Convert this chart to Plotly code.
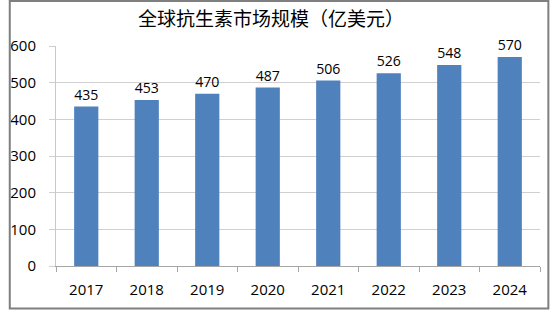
import plotly.graph_objects as go

years = ["2017", "2018", "2019", "2020", "2021", "2022", "2023", "2024"]
values = [435, 453, 470, 487, 506, 526, 548, 570]
title = "全球抗生素市场规模（亿美元）"

W, H = 550, 310
ml, mr, mt, mb = 48, 10, 46, 44
pw, ph = W - ml - mr, H - mt - mb

fig = go.Figure(go.Bar(
    x=years, y=values, marker=dict(color="#4F81BD", line=dict(width=0)),
    text=[str(v) for v in values], textposition="outside",
    textfont=dict(size=15, color="#000000", family="Open Sans, Liberation Sans, sans-serif"),
    cliponaxis=False, width=0.40,
))

fig.update_layout(
    width=W, height=H, margin=dict(l=ml, r=mr, t=mt, b=mb),
    paper_bgcolor="white", plot_bgcolor="white", showlegend=False,
    title=dict(text=title, x=271 / W, xanchor="center", y=1 - 19 / H, yanchor="middle",
               font=dict(size=19, color="#000000", family="Noto Sans CJK SC", weight="normal")),
    font=dict(family="Open Sans, Liberation Sans, sans-serif", color="#000000", size=14),
    xaxis=dict(showline=True, linecolor="#A6A6A6", linewidth=1, ticks="outside",
               tickson="boundaries", ticklen=5, tickcolor="#A6A6A6",
               tickfont=dict(size=15), showgrid=False, ticklabelstandoff=10),
    yaxis=dict(range=[0, 600], dtick=100, showgrid=True, gridcolor="#D0D0D0",
               showline=True, linecolor="#C8C8C8", zeroline=False,
               tickfont=dict(size=15), ticks="outside", ticklen=6, tickcolor="#D0D0D0",
               ticklabelstandoff=10),
    shapes=[dict(type="rect", xref="paper", yref="paper",
                 x0=(1 - ml) / pw, x1=(W - 1.5 - ml) / pw,
                 y0=-(mb - 1.5) / ph, y1=1 + (mt - 1) / ph,
                 line=dict(color="#7F7F7F", width=2))],
)

fig.write_html("out.html")
